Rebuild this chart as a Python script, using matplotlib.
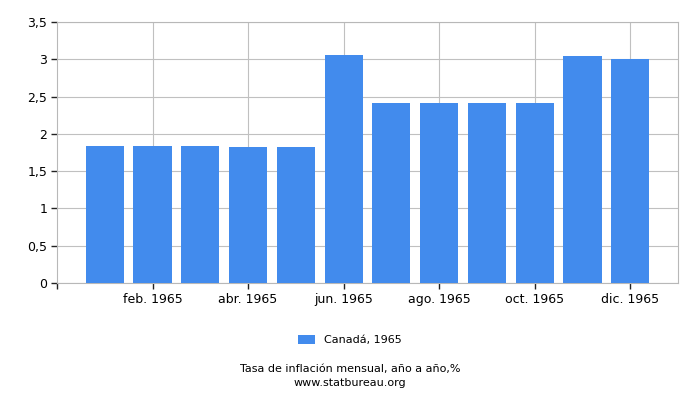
import matplotlib
matplotlib.use("Agg")
import matplotlib.pyplot as plt

months = ["ene. 1965", "feb. 1965", "mar. 1965", "abr. 1965", "may. 1965", "jun. 1965",
          "jul. 1965", "ago. 1965", "sep. 1965", "oct. 1965", "nov. 1965", "dic. 1965"]
values = [1.84, 1.84, 1.84, 1.83, 1.83, 3.06, 2.42, 2.42, 2.42, 2.42, 3.04, 3.01]
yticks = [0, 0.5, 1, 1.5, 2, 2.5, 3, 3.5]
ytick_labels = ["0", "0,5", "1", "1,5", "2", "2,5", "3", "3,5"]

plt.rcParams["font.family"] = "DejaVu Sans"
fig = plt.figure(figsize=(7, 4), dpi=100)
ax = fig.add_axes([57 / 700, 1 - 283 / 400, 621 / 700, 261 / 400])

pos = list(range(1, len(values) + 1))
ax.bar(pos, values, width=0.8, color="#428bed", label="Canadá, 1965", zorder=3)

ax.set_xlim(0, 13)
ax.set_ylim(0, 3.5)
ax.set_xticks(pos[1::2])
ax.set_xticklabels(months[1::2], fontsize=9)
ax.set_xticks([0], minor=True)
ax.set_yticks(yticks)
ax.set_yticklabels(ytick_labels, fontsize=9)
ax.grid(True, color="#c0c0c0", linewidth=0.8, zorder=0)
for s in ax.spines.values():
    s.set_color("#b8b8b8")
ax.tick_params(axis="both", which="both", length=4, width=1, color="#222222", pad=3)

fig.legend(loc="center", bbox_to_anchor=(0.5, 1 - 340 / 400), frameon=False,
           fontsize=8, handlelength=1.5, handleheight=0.9)
fig.text(0.5, 1 - 369 / 400, "Tasa de inflación mensual, año a año,%", ha="center",
         va="center", fontsize=8)
fig.text(0.5, 1 - 382.5 / 400, "www.statbureau.org", ha="center", va="center", fontsize=8)

fig.savefig("out.png", dpi=100)
